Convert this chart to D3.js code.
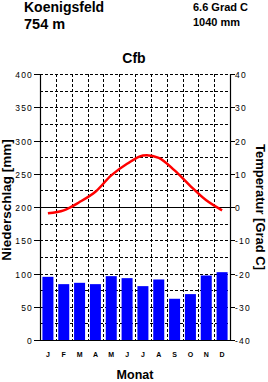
<!DOCTYPE html>
<html>
<head>
<meta charset="utf-8">
<script src="https://cdn.jsdelivr.net/npm/d3@7/dist/d3.min.js"></script>
<style>
  html, body { margin: 0; padding: 0; background: #fff; }
  svg { display: block; font-family: "Liberation Sans", Arial, sans-serif; }
</style>
</head>
<body>
<svg id="chart" width="268" height="382"></svg>
<script>
// ── Data ─────────────────────────────────────────────────────────────────────
const months   = ['J', 'F', 'M', 'A', 'M', 'J', 'J', 'A', 'S', 'O', 'N', 'D'];
const precipMm = [95, 84, 86, 84, 96, 93, 81, 91, 62, 69, 97, 102];
const tempC    = [-1.9, -1.0, 1.5, 4.6, 9.5, 13.0, 15.5, 14.8, 11.0, 6.3, 2.0, -1.0];
const precipTicks = [0, 50, 100, 150, 200, 250, 300, 350, 400];
const tempTicks   = [-40, -30, -20, -10, 0, 10, 20, 30, 40];

const station  = 'Koenigsfeld';
const altitude = '754 m';
const meanTemp = '6.6 Grad C';
const sumPrec  = '1040 mm';
const climate  = 'Cfb';

// ── Layout ───────────────────────────────────────────────────────────────────
const svg = d3.select('#chart');
const L = 40, R = 230, T = 74, B = 340;

const x  = d3.scaleBand().domain(d3.range(12)).range([L, R]);
const yP = d3.scaleLinear().domain([0, 400]).range([B, T]);
const yT = d3.scaleLinear().domain([-40, 40]).range([B, T]);

const g = svg.append('g');

// Horizontal dashed grid every 25 mm
g.selectAll('line.hgrid')
  .data(d3.range(25, 400 + 1, 25).filter(v => v !== 200))
  .enter().append('line')
  .attr('x1', L).attr('x2', R)
  .attr('y1', d => Math.round(yP(d)) + 0.5).attr('y2', d => Math.round(yP(d)) + 0.5)
  .attr('stroke', '#000').attr('stroke-width', 1).attr('stroke-dasharray', '3,2');

// Vertical dashed grid at month boundaries
g.selectAll('line.vgrid')
  .data(d3.range(1, 12))
  .enter().append('line')
  .attr('x1', d => Math.round(x(d)) + 0.5).attr('x2', d => Math.round(x(d)) + 0.5)
  .attr('y1', T).attr('y2', B)
  .attr('stroke', '#000').attr('stroke-width', 1).attr('stroke-dasharray', '3,2');

// Zero line (0 °C / 200 mm)
g.append('line')
  .attr('x1', L).attr('x2', R)
  .attr('y1', Math.round(yT(0)) + 0.5).attr('y2', Math.round(yT(0)) + 0.5)
  .attr('stroke', '#000').attr('stroke-width', 1);

// Precipitation bars
const bw = 11;
g.selectAll('rect.bar')
  .data(precipMm)
  .enter().append('rect')
  .attr('x', (d, i) => x(i) + x.bandwidth() / 2 - bw / 2)
  .attr('y', d => yP(d))
  .attr('width', bw)
  .attr('height', d => yP(0) - yP(d))
  .attr('fill', '#0000ff');

// Temperature curve
const line = d3.line()
  .x((d, i) => x(i) + x.bandwidth() / 2)
  .y(d => yT(d))
  .curve(d3.curveCatmullRom);
g.append('path')
  .datum(tempC)
  .attr('d', line)
  .attr('fill', 'none')
  .attr('stroke', '#ff0000')
  .attr('stroke-width', 2.5);

// Axes frame
const ax = svg.append('g').attr('stroke', '#000').attr('stroke-width', 1.2);
ax.append('line').attr('x1', L + 0.5).attr('x2', L + 0.5).attr('y1', T).attr('y2', B + 0.5);
ax.append('line').attr('x1', R + 0.5).attr('x2', R + 0.5).attr('y1', T).attr('y2', B + 0.5);
ax.append('line').attr('x1', L).attr('x2', R + 1).attr('y1', B + 0.5).attr('y2', B + 0.5);

// Left ticks + labels
const tickFont = { size: 8.5, spacing: 1.2 };
precipTicks.forEach(v => {
  const y = Math.round(yP(v)) + 0.5;
  svg.append('line').attr('x1', L - 6).attr('x2', L).attr('y1', y).attr('y2', y)
    .attr('stroke', '#000');
  svg.append('text').attr('x', L - 7).attr('y', y + 3)
    .attr('text-anchor', 'end').attr('font-size', tickFont.size)
    .attr('letter-spacing', tickFont.spacing).text(v);
});

// Right ticks + labels
tempTicks.forEach(v => {
  const y = Math.round(yT(v)) + 0.5;
  svg.append('line').attr('x1', R).attr('x2', R + 5).attr('y1', y).attr('y2', y)
    .attr('stroke', '#000');
  svg.append('text').attr('x', R + 5).attr('y', y + 3)
    .attr('font-size', tickFont.size)
    .attr('letter-spacing', tickFont.spacing).text(v < 0 ? '-' + Math.abs(v) : v);
});

// Month labels
svg.selectAll('text.month')
  .data(months)
  .enter().append('text')
  .attr('x', (d, i) => x(i) + x.bandwidth() / 2)
  .attr('y', 357)
  .attr('text-anchor', 'middle')
  .attr('font-size', 7).attr('font-weight', 'bold')
  .text(d => d);

// Titles
svg.append('text').attr('x', 24).attr('y', 12)
  .attr('font-size', 14).attr('font-weight', 'bold').text(station);
svg.append('text').attr('x', 24).attr('y', 29)
  .attr('font-size', 14.5).attr('font-weight', 'bold').text(altitude);
svg.append('text').attr('x', 193).attr('y', 11)
  .attr('font-size', 11).attr('font-weight', 'bold').text(meanTemp);
svg.append('text').attr('x', 193).attr('y', 26)
  .attr('font-size', 11).attr('font-weight', 'bold').text(sumPrec);
svg.append('text').attr('x', 134).attr('y', 63)
  .attr('text-anchor', 'middle')
  .attr('font-size', 14).attr('font-weight', 'bold').text(climate);
svg.append('text').attr('x', 135).attr('y', 379)
  .attr('text-anchor', 'middle')
  .attr('font-size', 12.5).attr('font-weight', 'bold').text('Monat');

// Axis titles
svg.append('text')
  .attr('transform', `translate(11,${(T + B) / 2 - 7}) rotate(-90)`)
  .attr('text-anchor', 'middle')
  .attr('font-size', 13.5).attr('font-weight', 'bold').text('Niederschlag [mm]');
svg.append('text')
  .attr('transform', `translate(256,${(T + B) / 2}) rotate(90)`)
  .attr('text-anchor', 'middle')
  .attr('font-size', 13).attr('font-weight', 'bold').text('Temperatur [Grad C]');
</script>
</body>
</html>
